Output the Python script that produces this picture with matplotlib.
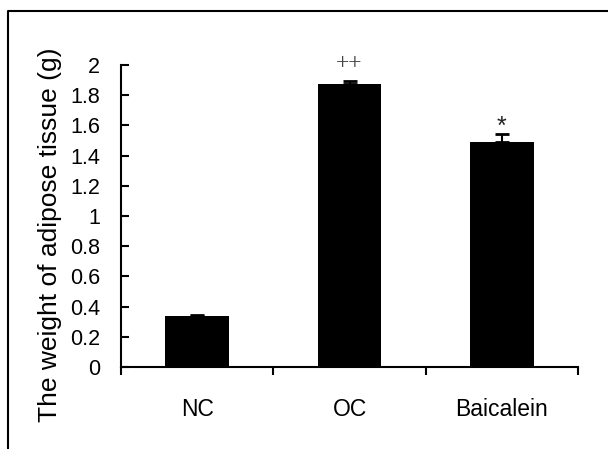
import matplotlib.pyplot as plt
from matplotlib.lines import Line2D

plt.rcParams['font.family'] = ['Liberation Sans', 'DejaVu Sans']

groups = ['NC', 'OC', 'Baicalein']
weights = [0.336, 1.872, 1.49]
errors = [0.01, 0.024, 0.05]
marks = ['', '++', '*']
mark_y = [0, 1.974, 1.543]

fig = plt.figure(figsize=(6.08, 4.49), dpi=100)
ax = fig.add_axes([121 / 608, 1 - 367 / 449, 457 / 608, 302 / 449])

x = list(range(len(groups)))
ax.bar(x, weights, width=0.42, color='black', zorder=2)
# plus-only error bars, Excel style
ax.errorbar(x, weights, yerr=[[0] * 3, errors], fmt='none', ecolor='black',
            elinewidth=1.5, capsize=5, capthick=2, zorder=3)

for xi, m, my in zip(x, marks, mark_y):
    if m == '++':
        ax.text(xi, my, m, ha='center', va='baseline', fontsize=17,
                family='Liberation Serif', color='#444444')
    elif m:
        ax.text(xi, my, m, ha='center', va='baseline', fontsize=18,
                family='Liberation Sans', color='#222222')

ax.set_xlim(-0.5, 2.5)
ax.set_ylim(0, 2)
ax.set_yticks([0, 0.2, 0.4, 0.6, 0.8, 1, 1.2, 1.4, 1.6, 1.8, 2])
ax.set_yticklabels(['0', '0.2', '0.4', '0.6', '0.8', '1', '1.2', '1.4',
                    '1.6', '1.8', '2'])
ax.set_xticks([-0.5, 0.5, 1.5, 2.5], minor=False)
ax.set_xticklabels([])
ax.set_xticks(x, minor=True)
ax.set_xticklabels(groups, minor=True)

ax.tick_params(axis='y', direction='in', length=6, width=1.5, labelsize=15.5, pad=15)
ax.tick_params(axis='x', which='major', direction='out', length=6, width=1.5)
ax.tick_params(axis='x', which='minor', length=0, labelsize=16.5, pad=22)

ax.spines['top'].set_visible(False)
ax.spines['right'].set_visible(False)
ax.spines['left'].set_linewidth(1.5)
ax.spines['bottom'].set_linewidth(1.5)

fig.text(50 / 608, 1 - 235 / 449, 'The weight of adipose tissue (g)',
         rotation=90, ha='center', va='center', fontsize=19)

# frame around the chart, cut off at right and bottom
fig.add_artist(Line2D([8 / 608, 8 / 608, 1], [0, 1 - 11 / 449, 1 - 11 / 449],
                      transform=fig.transFigure, color='black', linewidth=1.5))

fig.savefig('out.png', dpi=100)
